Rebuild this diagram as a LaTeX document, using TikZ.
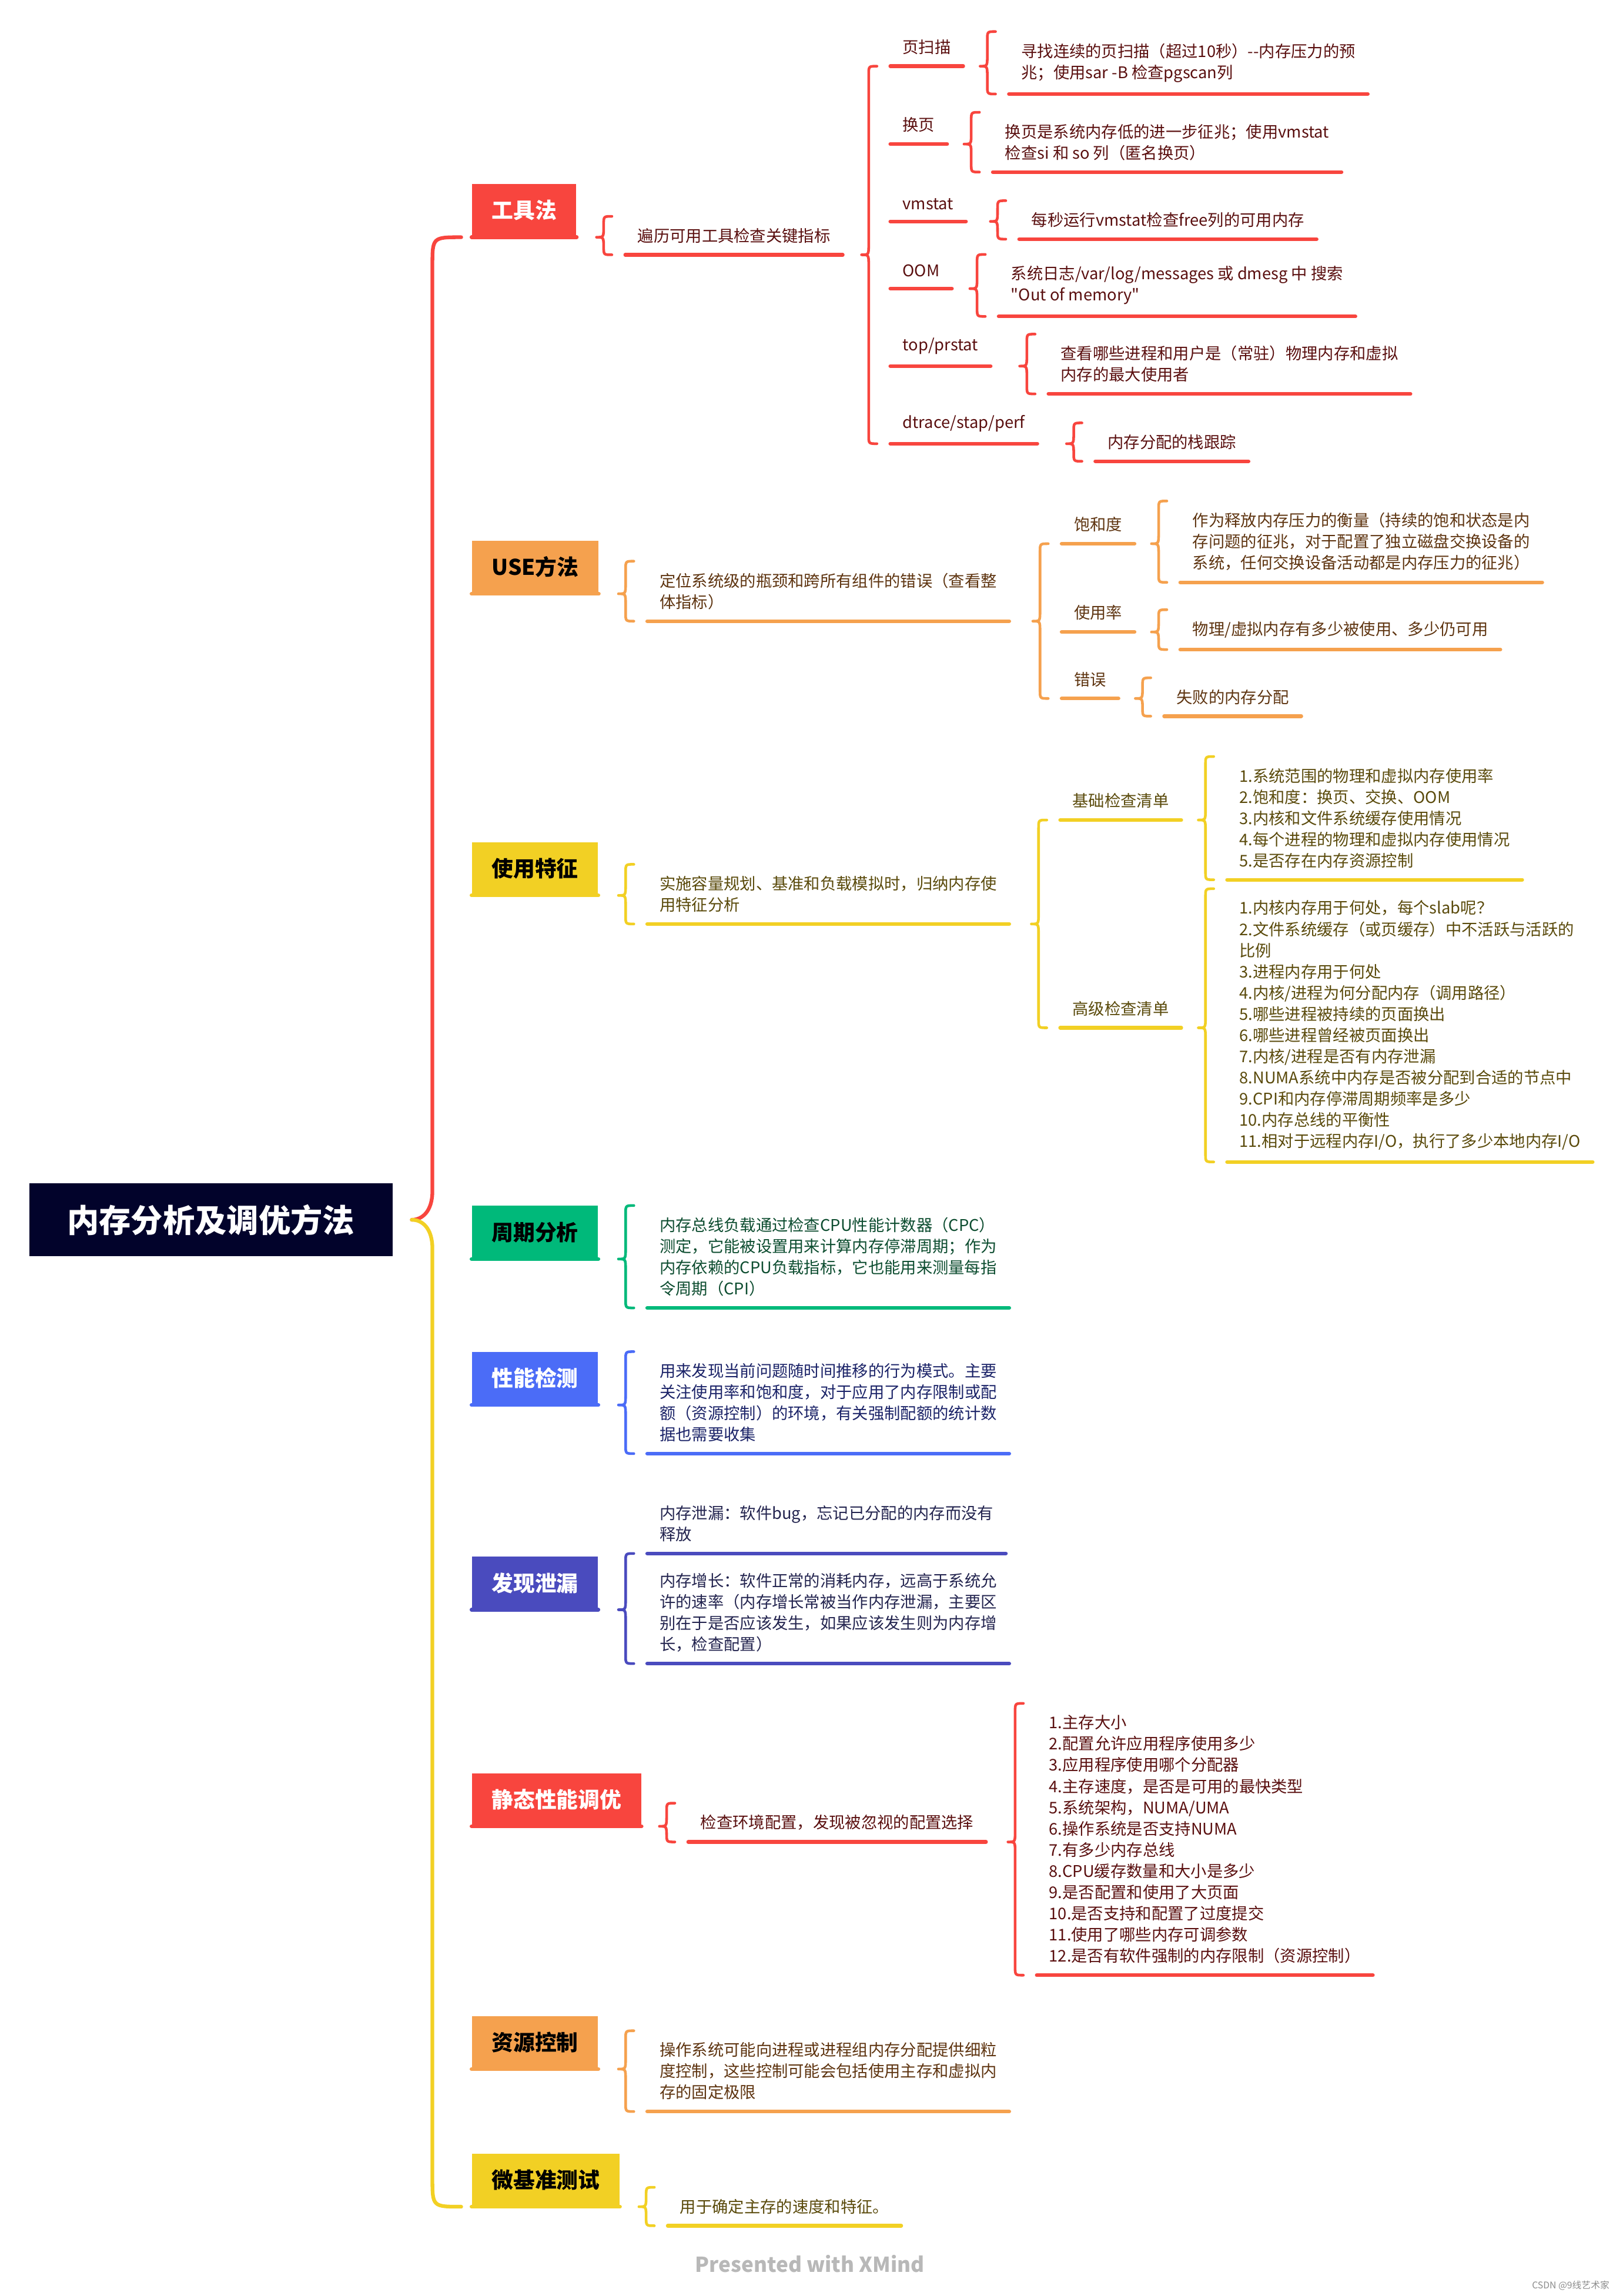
\documentclass[tikz,border=0pt]{standalone}
\usepackage{fontspec}
\setmainfont{Noto Sans CJK SC}
\newfontfamily\rawfont{Noto Sans CJK SC}
\usetikzlibrary{calc}
\definecolor{rootnavy}{HTML}{02032B}
\definecolor{mred}{HTML}{F8453E}
\definecolor{morange}{HTML}{F5A14E}
\definecolor{myellow}{HTML}{F2D024}
\definecolor{mgreen}{HTML}{00B97A}
\definecolor{mblue}{HTML}{4B6CF7}
\definecolor{mpurple}{HTML}{4A4BBE}
\definecolor{tred}{HTML}{5A0F0F}
\definecolor{torange}{HTML}{5E3410}
\definecolor{tyellow}{HTML}{5A4A0B}
\definecolor{tgreen}{HTML}{0D4D30}
\definecolor{tblue}{HTML}{1B2368}
\definecolor{tpurple}{HTML}{23244F}
\tikzset{
  rootbox/.style={fill=rootnavy, text=white, minimum width=6.2cm, minimum height=1.25cm,
    inner sep=0pt, font=\fontsize{15.5}{18}\selectfont\bfseries},
  topic/.style={anchor=south west, minimum height=0.9cm, inner xsep=9.6pt,
    font=\fontsize{10.5}{12}\selectfont\bfseries},
  leaf/.style={anchor=south west, align=left, inner xsep=5.8pt, inner ysep=5.5pt,
    font=\fontsize{7.8}{10.3}\selectfont},
  uline/.style={line width=1.8pt, line cap=round},
  bracestroke/.style={line width=1.3pt, line cap=round, line join=round},
  spine/.style={line width=1.8pt, line cap=round}
}
\newcommand\bracelink[4]{%
  \draw[bracestroke,#1] let \p1=(#2), \p2=(#3), \p3=(#4) in
    (\x2-6.5pt,\y2) .. controls (\x2-10.5pt,\y2) .. (\x2-10.5pt,\y2-4pt)
    -- (\x2-10.5pt,\y1+5pt) .. controls (\x2-10.5pt,\y1) .. (\x2-14pt,\y1)
    .. controls (\x2-10.5pt,\y1) .. (\x2-10.5pt,\y1-5pt)
    -- (\x2-10.5pt,\y3+4pt) .. controls (\x2-10.5pt,\y3) .. (\x2-6.5pt,\y3);}

\begin{document}
\begin{tikzpicture}[x=0.025cm, y=-0.025cm]
  \path[use as bounding box, fill=white] (0,0) rectangle (1108,1568);

  \node[rootbox] (root) at (144,833) {内存分析及调优方法};

  \foreach \nm/\yy/\cc/\tc/\txt in {t1/162/mred/white/工具法, t2/405.5/morange/black/USE方法,
      t3/611.5/myellow/black/使用特征, t4/859.8/mgreen/black/周期分析, t5/959.5/mblue/white/性能检测,
      t6/1099.3/mpurple/white/发现泄漏, t7/1247.2/mred/white/静态性能调优,
      t8/1413/morange/black/资源控制, t9/1507/myellow/black/微基准测试} {
    \node[topic, fill=\cc, text=\tc] (\nm) at (322,\yy) {\txt};
    \draw[uline,\cc] (\nm.south west) -- (\nm.south east);
  }

  \draw[spine,mred] let \p1=(root.east), \p2=(t1.south west) in
    (\x2-5pt,\y2) .. controls (\x2-19pt,\y2) .. (\x2-19pt,\y2-14pt)
    -- (\x2-19pt,\y1+14pt) .. controls (\x2-19pt,\y1+4pt) and (\x2-24pt,\y1) .. (\x2-29pt,\y1);
  \draw[spine,myellow] let \p1=(root.east), \p2=(t9.south west) in
    (\x2-29pt,\y1) .. controls (\x2-24pt,\y1) and (\x2-19pt,\y1-4pt) .. (\x2-19pt,\y1-14pt)
    -- (\x2-19pt,\y2+14pt) .. controls (\x2-19pt,\y2) .. (\x2-5pt,\y2);

  % 工具法
  \node[leaf, text=tred] (a1) at (427,174) {遍历可用工具检查关键指标};
  \foreach \nm/\yy/\txt in {p1/45.2/页扫描, p2/98.4/换页, p3/151.2/vmstat, p4/197.1/OOM,
      p5/250/{top/prstat}, p6/303/{dtrace/stap/perf}} {
    \node[leaf, text=tred] (\nm) at (608,\yy) {\txt};
  }
  \node[leaf, text=tred] (d1) at (689,64.2) {寻找连续的页扫描（超过10秒）{\rawfont --}内存压力的预\\兆；使用sar -B 检查pgscan列};
  \node[leaf, text=tred] (d2) at (678,117.5) {换页是系统内存低的进一步征兆；使用vmstat\\检查si 和 so 列（匿名换页）};
  \node[leaf, text=tred] (d3) at (696,163.3) {每秒运行vmstat检查free列的可用内存};
  \node[leaf, text=tred] (d4) at (682,216.1) {系统日志/var/log/messages 或 dmesg 中 搜索\\{\rawfont "Out of memory"}};
  \node[leaf, text=tred] (d5) at (716,269) {查看哪些进程和用户是（常驻）物理内存和虚拟\\内存的最大使用者};
  \node[leaf, text=tred] (d6) at (748,315) {内存分配的栈跟踪};
  \foreach \u in {a1,p1,p2,p3,p4,p5,p6,d1,d2,d3,d4,d5,d6} {
    \draw[uline,mred] (\u.south west) -- (\u.south east);
  }
  \bracelink{mred}{t1.south}{a1.north west}{a1.south west}
  \bracelink{mred}{a1.south}{p1.south west}{p6.south west}
  \foreach \u/\v in {p1/d1,p2/d2,p3/d3,p4/d4,p5/d5,p6/d6} {
    \bracelink{mred}{\u.south}{\v.north west}{\v.south west}
  }

  % USE方法
  \node[leaf, text=torange] (b1) at (442,424.2) {定位系统级的瓶颈和跨所有组件的错误（查看整\\体指标）};
  \foreach \nm/\yy/\txt in {q1/371.3/饱和度, q2/431.6/使用率, q3/477/错误} {
    \node[leaf, text=torange] (\nm) at (725,\yy) {\txt};
  }
  \node[leaf, text=torange] (e1) at (806,397.7) {作为释放内存压力的衡量（持续的饱和状态是内\\存问题的征兆，对于配置了独立磁盘交换设备的\\系统，任何交换设备活动都是内存压力的征兆）};
  \node[leaf, text=torange] (e2) at (806,443.6) {物理/虚拟内存有多少被使用、多少仍可用};
  \node[leaf, text=torange] (e3) at (795,489.1) {失败的内存分配};
  \foreach \u in {b1,q1,q2,q3,e1,e2,e3} {
    \draw[uline,morange] (\u.south west) -- (\u.south east);
  }
  \bracelink{morange}{t2.south}{b1.north west}{b1.south west}
  \bracelink{morange}{b1.south}{q1.south west}{q3.south west}
  \foreach \u/\v in {q1/e1,q2/e2,q3/e3} {
    \bracelink{morange}{\u.south}{\v.north west}{\v.south west}
  }

  % 使用特征
  \node[leaf, text=tyellow] (c1) at (442,631) {实施容量规划、基准和负载模拟时，归纳内存使\\用特征分析};
  \node[leaf, text=tyellow] (r1) at (724,560) {基础检查清单};
  \node[leaf, text=tyellow] (r2) at (724,701.9) {高级检查清单};
  \node[leaf, text=tyellow] (f1) at (838,600.8) {1.系统范围的物理和虚拟内存使用率\\2.饱和度：换页、交换、OOM\\3.内核和文件系统缓存使用情况\\4.每个进程的物理和虚拟内存使用情况\\5.是否存在内存资源控制};
  \node[leaf, text=tyellow] (f2) at (838,793.5) {1.内核内存用于何处，每个slab呢？\\2.文件系统缓存（或页缓存）中不活跃与活跃的\\比例\\3.进程内存用于何处\\4.内核/进程为何分配内存（调用路径）\\5.哪些进程被持续的页面换出\\6.哪些进程曾经被页面换出\\7.内核/进程是否有内存泄漏\\8.NUMA系统中内存是否被分配到合适的节点中\\9.CPI和内存停滞周期频率是多少\\10.内存总线的平衡性\\11.相对于远程内存I/O，执行了多少本地内存I/O};
  \foreach \u in {c1,r1,r2,f1,f2} {
    \draw[uline,myellow] (\u.south west) -- (\u.south east);
  }
  \bracelink{myellow}{t3.south}{c1.north west}{c1.south west}
  \bracelink{myellow}{c1.south}{r1.south west}{r2.south west}
  \bracelink{myellow}{r1.south}{f1.north west}{f1.south west}
  \bracelink{myellow}{r2.south}{f2.north west}{f2.south west}

  % 周期分析, 性能检测, 发现泄漏
  \node[leaf, text=tgreen] (g1) at (442,893.2) {内存总线负载通过检查CPU性能计数器（CPC）\\测定，它能被设置用来计算内存停滞周期；作为\\内存依赖的CPU负载指标，它也能用来测量每指\\令周期（CPI）};
  \draw[uline,mgreen] (g1.south west) -- (g1.south east);
  \bracelink{mgreen}{t4.south}{g1.north west}{g1.south west}

  \node[leaf, text=tblue] (h1) at (442,992.7) {用来发现当前问题随时间推移的行为模式。主要\\关注使用率和饱和度，对于应用了内存限制或配\\额（资源控制）的环境，有关强制配额的统计数\\据也需要收集};
  \draw[uline,mblue] (h1.south west) -- (h1.south east);
  \bracelink{mblue}{t5.south}{h1.north west}{h1.south west}

  \node[leaf, text=tpurple] (i1) at (442,1060.9) {内存泄漏：软件bug，忘记已分配的内存而没有\\释放};
  \node[leaf, text=tpurple] (i2) at (442,1136.1) {内存增长：软件正常的消耗内存，远高于系统允\\许的速率（内存增长常被当作内存泄漏，主要区\\别在于是否应该发生，如果应该发生则为内存增\\长，检查配置）};
  \foreach \u in {i1,i2} {
    \draw[uline,mpurple] (\u.south west) -- (\u.south east);
  }
  \bracelink{mpurple}{t6.south}{i1.south west}{i2.south west}

  % 静态性能调优
  \node[leaf, text=tred] (j1) at (470,1257.9) {检查环境配置，发现被忽视的配置选择};
  \node[leaf, text=tred] (j2) at (708,1348.9) {1.主存大小\\2.配置允许应用程序使用多少\\3.应用程序使用哪个分配器\\4.主存速度，是否是可用的最快类型\\5.系统架构，NUMA/UMA\\6.操作系统是否支持NUMA\\7.有多少内存总线\\8.CPU缓存数量和大小是多少\\9.是否配置和使用了大页面\\10.是否支持和配置了过度提交\\11.使用了哪些内存可调参数\\12.是否有软件强制的内存限制（资源控制）};
  \foreach \u in {j1,j2} {
    \draw[uline,mred] (\u.south west) -- (\u.south east);
  }
  \bracelink{mred}{t7.south}{j1.north west}{j1.south west}
  \bracelink{mred}{j1.south}{j2.north west}{j2.south west}

  % 资源控制, 微基准测试
  \node[leaf, text=torange] (k1) at (442,1442) {操作系统可能向进程或进程组内存分配提供细粒\\度控制，这些控制可能会包括使用主存和虚拟内\\存的固定极限};
  \draw[uline,morange] (k1.south west) -- (k1.south east);
  \bracelink{morange}{t8.south}{k1.north west}{k1.south west}

  \node[leaf, text=tyellow] (l1) at (456,1520) {用于确定主存的速度和特征。};
  \draw[uline,myellow] (l1.south west) -- (l1.south east);
  \bracelink{myellow}{t9.south}{l1.north west}{l1.south west}

  \node[text=black!28, font=\fontsize{10}{12}\selectfont\bfseries] (credit) at (553,1546) {Presented with XMind};
  \node[text=black!45, anchor=east, font=\fontsize{4.5}{5}\selectfont] (mark) at (1104,1561) {CSDN @9线艺术家};
\end{tikzpicture}
\end{document}
